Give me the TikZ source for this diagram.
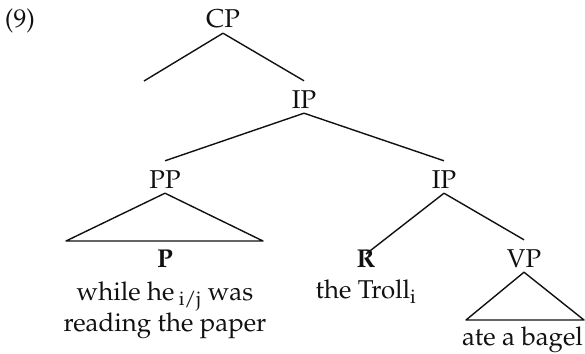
\documentclass[tikz,border=0pt]{standalone}
\usepackage[T1]{fontenc}
\usepackage{mathpazo}
\definecolor{ink}{HTML}{111111}

\begin{document}
\begin{tikzpicture}[x=1pt, y=-1pt,
    every node/.style={font=\fontsize{25.8}{27}\selectfont, text=ink},
    cat/.style={anchor=base, inner sep=5pt, text height=22pt, text depth=0pt},
    words/.style={align=center, inner sep=0pt},
    branch/.style={draw=ink, line width=1.4pt, line join=round}]
    \useasboundingbox (0,0) rectangle (585,353);
    \node [anchor=base, inner sep=0pt] (num) at (20,28) {(9)};
    % category labels
    \node [cat] (CP) at (223,28) {CP};
    \node [cat] (IPa) at (304,108) {IP};
    \node [cat] (PP) at (165,188) {PP};
    \node [cat] (IPb) at (444,188) {IP};
    \node [cat] (VP) at (524,267) {VP};
    \coordinate (spec) at (144,81);
    \coordinate (ppl) at (66,241);
    \coordinate (ppr) at (263,241);
    \coordinate (vpl) at (466,320);
    \coordinate (vpr) at (584,320);
    % branches
    \draw [branch] (CP.south) -- (spec);
    \draw [branch] (CP.south) -- (IPa.north);
    \draw [branch] (IPa.south) -- (PP.north);
    \draw [branch] (IPa.south) -- (IPb.north);
    \draw [branch] (PP.south) -- (ppl) -- (ppr) -- cycle;
    \draw [branch] (VP.south) -- (vpl) -- (vpr) -- cycle;
    % leaves
    \node [words, anchor=north] (Pwords) at (165,250) {\textbf{P}\\[6pt]while he\,\textsubscript{i/j} was\\reading the paper};
    \node [words, anchor=north] (Rwords) at (366,250) {\textbf{R}\\[4pt]the Troll\textsubscript{i}};
    \draw [branch] (IPb.south) -- ([yshift=-4pt]Rwords.north);
    \draw [branch] (IPb.south) -- (VP.north);
    \node [anchor=base, inner sep=0pt] (bagel) at (522.5,345) {ate a bagel};
\end{tikzpicture}
\end{document}
